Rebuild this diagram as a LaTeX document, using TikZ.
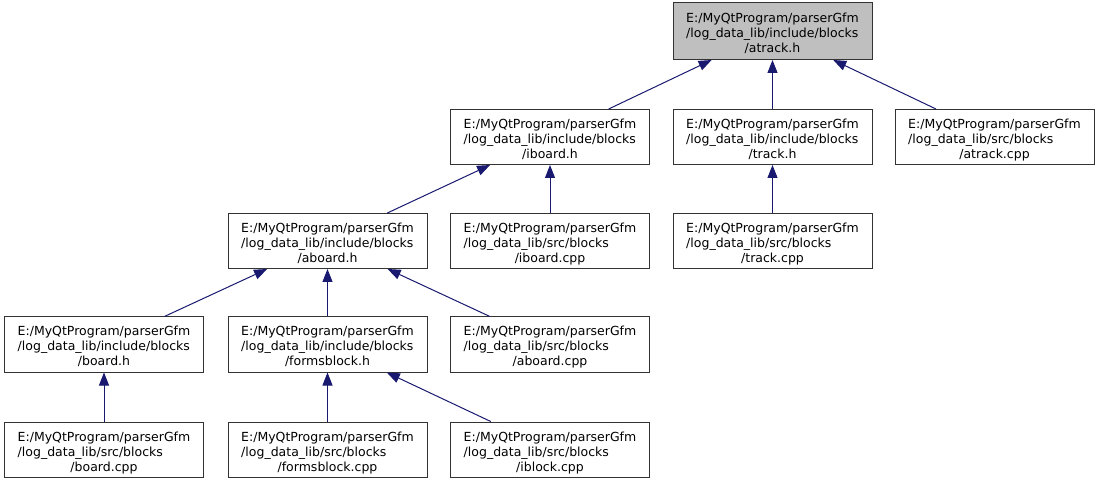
\documentclass[tikz,border=0pt]{standalone}
\usepackage{fontspec}
\setmainfont{DejaVu Sans}
\usetikzlibrary{arrows.meta}
\definecolor{edgeblue}{HTML}{191970}
\definecolor{rootgray}{HTML}{BFBFBF}
% file label: two left-aligned path lines, file name centred below;
% the taller first strut sets the text a little below the box centre
\newcommand\flabel[3]{\begin{tabular}{@{}l@{}}\rule{0pt}{17.5bp}#1\\#2\\\multicolumn{1}{@{}c@{}}{#3}\end{tabular}}
\newcommand\prog{E:/MyQtProgram/parserGfm}
\newcommand\incdir{/log\_data\_lib/include/blocks}
\newcommand\srcdir{/log\_data\_lib/src/blocks}
\tikzset{
  file/.style={draw=black!80, line width=1bp, fill=white,
    minimum width=199bp, minimum height=55bp, inner sep=0pt,
    font=\fontsize{12.5bp}{15bp}\selectfont},
  rootfile/.style={file, fill=rootgray, minimum height=57bp},
  dep/.style={draw=edgeblue, line width=1bp,
    {Triangle[length=13bp,width=10bp]}-}
}
\begin{document}
\begin{tikzpicture}[x=1bp,y=-1bp]
\useasboundingbox (0,0) rectangle (1100,483);
% row 1
\node[rootfile] (atrackh) at (772.5,31) {\flabel{\prog}{\incdir}{/atrack.h}};
% row 2
\node[file] (iboardh)   at (550,137)   {\flabel{\prog}{\incdir}{/iboard.h}};
\node[file] (trackh)    at (772.5,137) {\flabel{\prog}{\incdir}{/track.h}};
\node[file] (atrackcpp) at (994.5,137) {\flabel{\prog}{\srcdir}{/atrack.cpp}};
% row 3
\node[file] (aboardh)   at (327.5,241) {\flabel{\prog}{\incdir}{/aboard.h}};
\node[file] (iboardcpp) at (550,241)   {\flabel{\prog}{\srcdir}{/iboard.cpp}};
\node[file] (trackcpp)  at (772.5,241) {\flabel{\prog}{\srcdir}{/track.cpp}};
% row 4
\node[file] (boardh)      at (104,344.5)   {\flabel{\prog}{\incdir}{/board.h}};
\node[file] (formsblockh) at (327.5,344.5) {\flabel{\prog}{\incdir}{/formsblock.h}};
\node[file] (aboardcpp)   at (550,344.5)   {\flabel{\prog}{\srcdir}{/aboard.cpp}};
% row 5
\node[file] (boardcpp)      at (104,449.5)   {\flabel{\prog}{\srcdir}{/board.cpp}};
\node[file] (formsblockcpp) at (327.5,449.5) {\flabel{\prog}{\srcdir}{/formsblock.cpp}};
\node[file] (iblockcpp)     at (550,449.5)   {\flabel{\prog}{\srcdir}{/iblock.cpp}};
% include dependencies (arrow points at the included file)
\draw[dep] (atrackh) -- (iboardh);
\draw[dep] (atrackh) -- (trackh);
\draw[dep] (atrackh) -- (atrackcpp);
\draw[dep] (iboardh) -- (aboardh);
\draw[dep] (iboardh) -- (iboardcpp);
\draw[dep] (trackh) -- (trackcpp);
\draw[dep] (aboardh) -- (boardh);
\draw[dep] (aboardh) -- (formsblockh);
\draw[dep] (aboardh) -- (aboardcpp);
\draw[dep] (boardh) -- (boardcpp);
\draw[dep] (formsblockh) -- (formsblockcpp);
\draw[dep] (formsblockh) -- (iblockcpp);
\end{tikzpicture}
\end{document}
